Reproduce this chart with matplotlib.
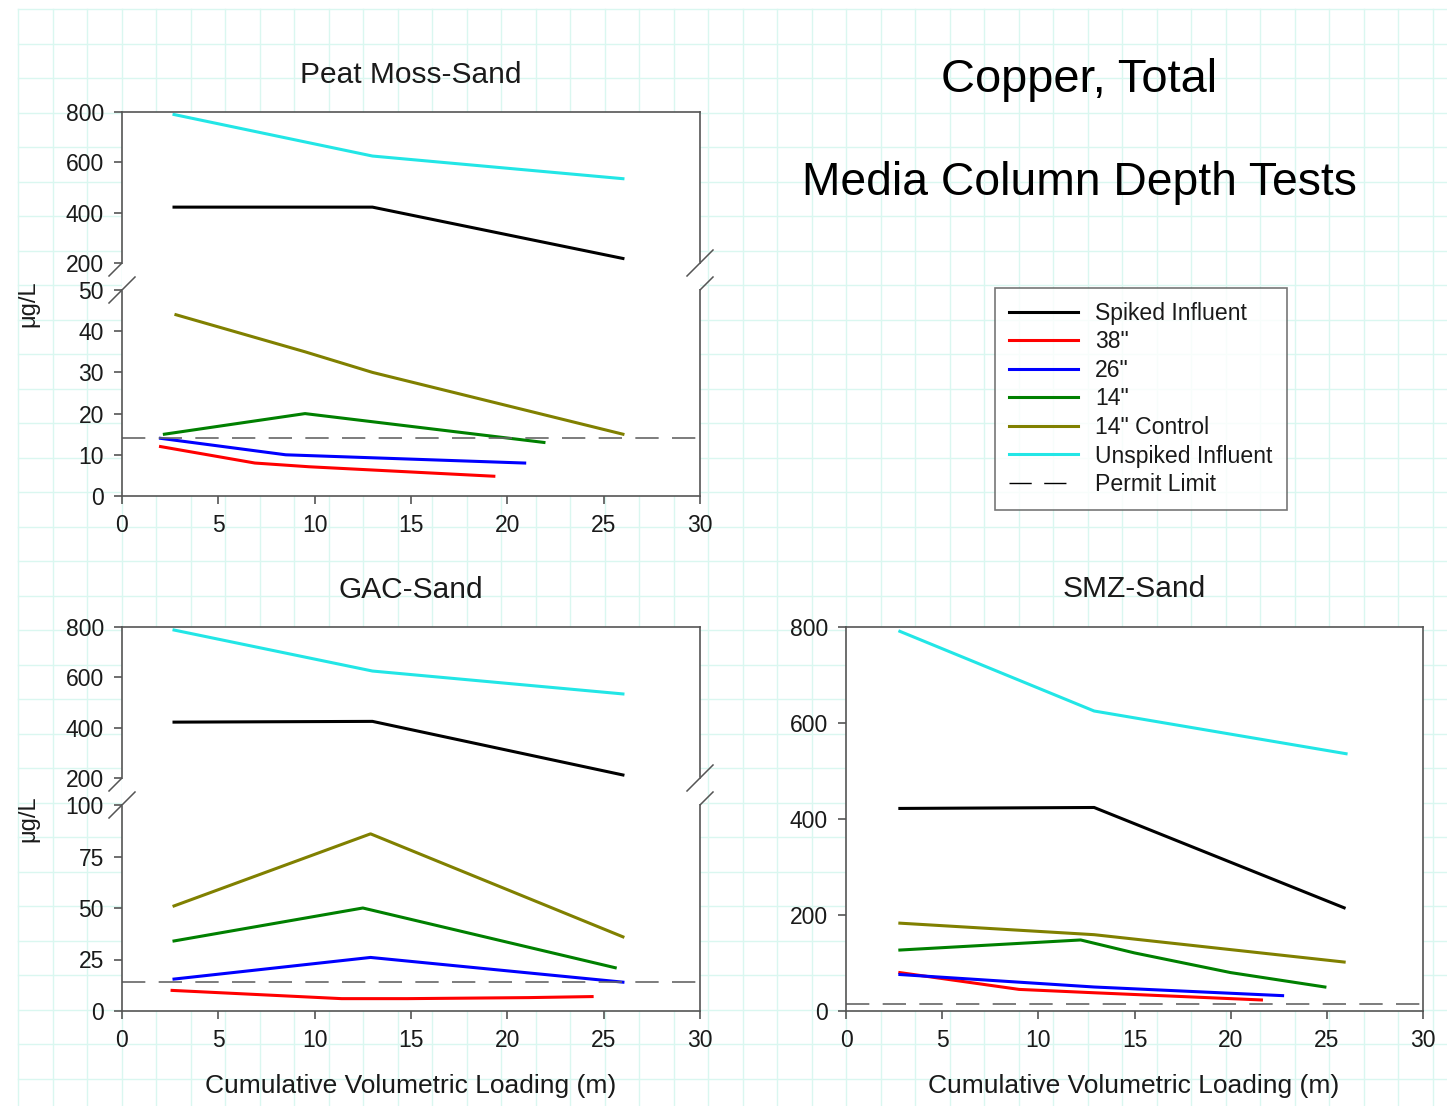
"""
Copper, Total - media column depth tests, three media panels
"""

import numpy as np
import matplotlib.pyplot as plt
from matplotlib.lines import Line2D
from matplotlib.patches import Rectangle

plt.rcParams['font.family'] = ['Liberation Sans', 'DejaVu Sans']

# series names and colours
names = ['Spiked Influent', '38"', '26"', '14"', '14" Control', 'Unspiked Influent']
colors = ['black', '#ff0000', '#0000ff', '#008000', '#808000', '#22e6e6']
permit = 14

# Peat Moss-Sand
peat_spk_x, peat_spk_y = [2.7, 13, 26], [422, 422, 218]
peat_38_x, peat_38_y = [2.0, 6.9, 9.7, 19.3], [12, 8, 7.1, 4.8]
peat_26_x, peat_26_y = [2.0, 8.5, 20.9], [14, 10, 8]
peat_14_x, peat_14_y = [2.2, 9.5, 21.9], [15, 20, 13]
peat_ctl_x, peat_ctl_y = [2.8, 9.5, 13, 26], [44, 35, 30, 15]
peat_uns_x, peat_uns_y = [2.7, 13, 26], [790, 625, 535]

# GAC-Sand
gac_spk_x, gac_spk_y = [2.7, 13, 26], [422, 425, 212]
gac_38_x, gac_38_y = [2.6, 11.4, 14.8, 21.1, 24.4], [10, 6, 6, 6.5, 7]
gac_26_x, gac_26_y = [2.7, 12.9, 26], [15.5, 26, 14]
gac_14_x, gac_14_y = [2.7, 12.5, 25.6], [34, 50, 21]
gac_ctl_x, gac_ctl_y = [2.7, 12.9, 26], [51, 86, 36]
gac_uns_x, gac_uns_y = [2.7, 13, 26], [788, 625, 534]

# SMZ-Sand
smz_spk_x, smz_spk_y = [2.8, 12.9, 25.9], [422, 424, 215]
smz_38_x, smz_38_y = [2.8, 9.0, 12.9, 21.6], [80, 45, 38, 23]
smz_26_x, smz_26_y = [2.8, 12.9, 22.7], [76, 50, 32]
smz_14_x, smz_14_y = [2.8, 12.2, 15, 20, 24.9], [127, 148, 121, 80, 50]
smz_ctl_x, smz_ctl_y = [2.8, 12.9, 25.9], [183, 159, 102]
smz_uns_x, smz_uns_y = [2.8, 12.9, 26], [791, 625, 536]

peat = [(peat_spk_x, peat_spk_y), (peat_38_x, peat_38_y), (peat_26_x, peat_26_y),
        (peat_14_x, peat_14_y), (peat_ctl_x, peat_ctl_y), (peat_uns_x, peat_uns_y)]
gac = [(gac_spk_x, gac_spk_y), (gac_38_x, gac_38_y), (gac_26_x, gac_26_y),
       (gac_14_x, gac_14_y), (gac_ctl_x, gac_ctl_y), (gac_uns_x, gac_uns_y)]
smz = [(smz_spk_x, smz_spk_y), (smz_38_x, smz_38_y), (smz_26_x, smz_26_y),
       (smz_14_x, smz_14_y), (smz_ctl_x, smz_ctl_y), (smz_uns_x, smz_uns_y)]

W, H = 1447, 1106
fig = plt.figure(figsize=(W / 100, H / 100), dpi=100)
fig.patch.set_facecolor('white')

spine_c = '#555555'
txt_c = '#1a1a1a'
lw = 2.2
dash = (0, (14, 8))


def rect(l, t, r, b):
    return [l / W, 1 - b / H, (r - l) / W, (b - t) / H]


# graph-paper background
bg = fig.add_axes([0, 0, 1, 1], zorder=-5)
bg.set_xlim(0, W)
bg.set_ylim(H, 0)
bg.axis('off')
for gx in np.arange(18, W, 34.5):
    bg.plot([gx, gx], [9, H], c='#daf7f0', lw=1)
for gy in np.arange(9, H, 34.5):
    bg.plot([18, W], [gy, gy], c='#daf7f0', lw=1)


def style(ax):
    ax.set_facecolor('white')
    for s in ax.spines.values():
        s.set_color(spine_c)
        s.set_linewidth(1.2)
    ax.tick_params(direction='out', length=6, width=1.2, color=spine_c,
                   labelsize=16.5, labelcolor=txt_c, pad=7)
    ax.set_xlim(0, 30)


def draw(ax, data):
    for (x, y), c in zip(data, colors):
        ax.plot(x, y, c=c, lw=lw, solid_joinstyle='round')
    ax.axhline(permit, c='#666666', lw=1.2, ls=dash)


def broken_panel(l, r, t, m1, m2, b, data, low_max, low_ticks, title, xlabel=False):
    # white strip in the gap between the two halves
    bg.add_patch(Rectangle((l, m1), r - l, m2 - m1, fc='white', ec='none', zorder=3))
    top = fig.add_axes(rect(l, t, r, m1))
    low = fig.add_axes(rect(l, m2, r, b))
    for ax in (top, low):
        style(ax)
        draw(ax, data)
    top.set_ylim(200, 800)
    top.set_yticks([200, 400, 600, 800])
    top.spines['bottom'].set_visible(False)
    top.tick_params(axis='x', bottom=False, labelbottom=False)
    low.set_ylim(0, low_max)
    low.set_yticks(low_ticks)
    low.set_xticks(range(0, 31, 5))
    low.spines['top'].set_visible(False)
    # break marks on both spines
    for yy in (m1, m2):
        for xx in (l, r):
            bg.plot([xx - 13, xx + 13], [yy + 13, yy - 13], c=spine_c, lw=1.1, zorder=4)
    fig.text((l + r) / 2 / W, 1 - (t - 37) / H, title, ha='center', va='center',
             fontsize=21.5, color=txt_c)
    fig.text(28 / W, 1 - (t + b) / 2 / H, 'μg/L', rotation=90, ha='center',
             va='center', fontsize=17, color=txt_c)
    if xlabel:
        fig.text((l + r) / 2 / W, 1 - 1086 / H, 'Cumulative Volumetric Loading (m)',
                 ha='center', va='center', fontsize=19, color=txt_c)


broken_panel(122, 700, 112, 263, 290, 496, peat, 50, range(0, 51, 10), 'Peat Moss-Sand')
broken_panel(122, 700, 627, 778, 805, 1011, gac, 100, [0, 25, 50, 75, 100], 'GAC-Sand',
             xlabel=True)

# SMZ-Sand, single axis
ax = fig.add_axes(rect(846, 627, 1423, 1011))
style(ax)
draw(ax, smz)
ax.set_ylim(0, 800)
ax.set_yticks(range(0, 801, 200))
ax.set_xticks(range(0, 31, 5))
fig.text(1134 / W, 1 - 589 / H, 'SMZ-Sand', ha='center', va='center',
         fontsize=21.5, color=txt_c)
fig.text(1134 / W, 1 - 1086 / H, 'Cumulative Volumetric Loading (m)',
         ha='center', va='center', fontsize=19, color=txt_c)

# big titles
fig.text(1079 / W, 1 - 80 / H, 'Copper, Total', ha='center', va='center',
         fontsize=33.8, color='black')
fig.text(1079 / W, 1 - 183 / H, 'Media Column Depth Tests', ha='center', va='center',
         fontsize=33.3, color='black')

# legend
handles = [Line2D([], [], c=c, lw=lw) for c in colors]
handles.append(Line2D([], [], c='black', lw=1.0, ls=(0, (16, 9))))
leg = fig.legend(handles, names + ['Permit Limit'], loc='upper left',
                 bbox_to_anchor=(995 / W, 1 - 288 / H), fontsize=16.6,
                 frameon=True, fancybox=False, borderpad=0.6, handlelength=3.0,
                 handletextpad=0.75, labelspacing=0.24, borderaxespad=0)
leg.get_frame().set_edgecolor(spine_c)
leg.get_frame().set_linewidth(1.2)
for t in leg.get_texts():
    t.set_color(txt_c)

fig.savefig('out.png', dpi=100)
